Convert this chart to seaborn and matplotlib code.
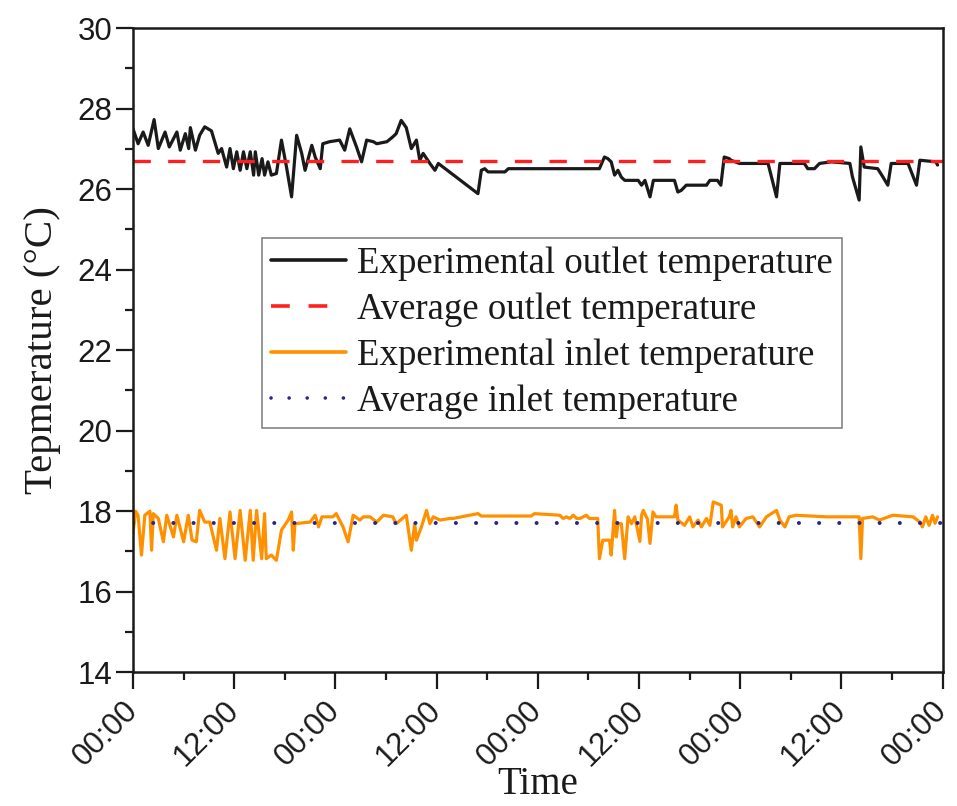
import matplotlib
matplotlib.use("Agg")
import matplotlib.pyplot as plt
import seaborn as sns
import pandas as pd

# Outlet water temperature over four days (hours since start, °C)
outlet_hours = [
    0.0, 0.6, 1.2, 1.8, 2.5, 3.0, 3.8, 4.3, 5.2, 5.6,
    6.2, 6.6, 6.8, 7.4, 7.9, 8.5, 9.3, 10.1, 10.5, 11.1,
    11.5, 11.9, 12.3, 12.7, 13.1, 13.5, 13.9, 14.3, 14.5, 14.9,
    15.3, 15.6, 16.0, 16.4, 17.0, 17.6, 18.2, 18.8, 19.4, 20.0,
    20.4, 21.2, 21.6, 22.2, 22.5, 23.3, 24.5, 25.1, 25.7, 26.5,
    27.1, 27.7, 28.5, 28.9, 30.1, 30.8, 31.2, 31.8, 32.4, 33.0,
    33.6, 34.0, 34.4, 35.2, 35.8, 36.2, 40.9, 41.3, 41.7, 42.1,
    44.1, 44.5, 55.3, 55.9, 56.3, 56.7, 57.1, 57.5, 57.9, 58.3,
    59.9, 60.3, 60.7, 61.3, 61.7, 64.2, 64.6, 65.0, 65.6, 68.0,
    68.4, 69.3, 69.7, 70.1, 70.7, 70.9, 71.9, 75.3, 76.3, 76.7,
    79.6, 80.0, 80.8, 81.4, 82.8, 85.0, 85.3, 86.1, 86.3, 86.7,
    88.3, 88.9, 89.5, 89.9, 91.9, 92.9, 93.3, 95.2, 95.4,
]
outlet_temp = [
    27.50, 27.13, 27.42, 27.09, 27.73, 27.01, 27.42, 27.05, 27.42, 26.97,
    27.38, 27.01, 27.53, 26.97, 27.34, 27.55, 27.45, 26.89, 27.01, 26.55,
    27.01, 26.51, 26.93, 26.47, 26.93, 26.51, 26.93, 26.35, 26.93, 26.35,
    26.76, 26.35, 26.68, 26.35, 26.39, 27.22, 26.55, 25.81, 27.34, 26.89,
    26.47, 27.09, 26.80, 26.51, 27.13, 27.18, 27.22, 26.97, 27.50, 27.05,
    26.68, 27.22, 27.18, 27.13, 27.18, 27.30, 27.38, 27.71, 27.53, 27.01,
    27.22, 26.72, 26.89, 26.64, 26.47, 26.64, 25.89, 26.47, 26.51, 26.43,
    26.43, 26.51, 26.51, 26.80, 26.76, 26.68, 26.35, 26.47, 26.30, 26.22,
    26.22, 26.10, 26.22, 25.81, 26.22, 26.22, 25.93, 25.97, 26.10, 26.10,
    26.22, 26.22, 26.10, 26.80, 26.76, 26.72, 26.64, 26.64, 25.81, 26.64,
    26.64, 26.51, 26.51, 26.64, 26.68, 26.64, 26.31, 25.73, 27.05, 26.55,
    26.51, 26.31, 26.10, 26.64, 26.64, 26.10, 26.72, 26.68, 26.60,
]

# Inlet water temperature over the same period (hours since start, °C)
inlet_hours = [
    0.0, 0.3, 0.6, 1.0, 1.4, 2.0, 2.2, 2.4, 3.0, 3.6,
    4.0, 4.8, 5.2, 6.0, 6.55, 7.0, 7.5, 7.9, 8.5, 9.1,
    9.9, 10.3, 10.9, 11.5, 12.1, 12.7, 13.3, 13.9, 14.25, 14.65,
    15.25, 15.6, 15.8, 16.4, 17.0, 17.6, 18.4, 18.8, 19.0, 19.2,
    21.0, 21.6, 22.0, 22.4, 23.7, 24.1, 24.9, 25.5, 26.1, 26.9,
    27.3, 28.1, 28.9, 29.7, 30.8, 31.2, 32.4, 33.0, 33.4, 33.6,
    34.2, 34.8, 35.2, 35.6, 36.4, 37.6, 37.95, 40.9, 41.3, 47.2,
    47.6, 50.6, 51.0, 51.4, 51.8, 52.2, 52.6, 53.0, 53.75, 54.1,
    55.1, 55.3, 55.7, 56.5, 56.7, 57.1, 57.3, 57.5, 57.9, 58.3,
    58.7, 59.1, 59.5, 60.1, 60.3, 60.5, 61.0, 61.3, 61.65, 62.0,
    64.2, 64.4, 64.6, 65.4, 66.0, 66.4, 67.0, 67.4, 68.0, 68.4,
    68.8, 69.75, 69.9, 70.7, 70.9, 71.1, 71.5, 71.9, 72.7, 73.5,
    74.3, 75.1, 76.3, 76.7, 77.3, 77.8, 78.6, 82.2, 86.1, 86.3,
    86.5, 87.7, 88.5, 90.1, 92.5, 93.3, 93.6, 94.0, 94.4, 94.8,
    95.1, 95.4,
]
inlet_temp = [
    17.45, 18.00, 17.90, 16.91, 17.90, 18.00, 17.03, 17.94, 17.82, 17.24,
    17.90, 17.36, 17.90, 17.24, 17.90, 17.28, 17.24, 18.02, 17.73, 17.73,
    17.03, 17.82, 16.82, 17.98, 16.82, 18.02, 16.78, 18.02, 16.78, 18.02,
    16.82, 17.94, 16.82, 16.91, 16.78, 17.53, 17.78, 17.98, 17.03, 17.69,
    17.73, 17.90, 17.61, 17.86, 17.86, 17.94, 17.61, 17.24, 17.90, 17.78,
    17.86, 17.86, 17.73, 17.90, 17.86, 17.69, 17.90, 17.03, 17.69, 17.28,
    17.61, 18.02, 17.69, 17.86, 17.78, 17.82, 17.82, 17.94, 17.88, 17.88,
    17.94, 17.90, 17.82, 17.86, 17.82, 17.90, 17.82, 17.82, 17.90, 17.82,
    17.82, 16.82, 17.28, 17.28, 16.91, 18.02, 17.36, 17.69, 17.69, 16.82,
    17.86, 17.69, 17.86, 17.25, 17.90, 18.02, 17.80, 17.20, 17.98, 17.86,
    17.86, 18.15, 17.78, 17.65, 17.86, 17.61, 17.78, 17.61, 17.82, 17.65,
    18.23, 18.15, 17.61, 17.86, 18.02, 17.61, 17.86, 17.61, 17.82, 17.86,
    17.61, 17.86, 18.02, 17.78, 17.61, 17.86, 17.90, 17.86, 17.86, 16.82,
    17.82, 17.86, 17.78, 17.90, 17.86, 17.73, 17.61, 17.86, 17.65, 17.90,
    17.70, 17.86,
]

avg_outlet = 26.7
avg_inlet = 17.7

tick_hours = [0, 12, 24, 36, 48, 60, 72, 84, 96]
tick_labels = ["00:00", "12:00", "00:00", "12:00", "00:00",
               "12:00", "00:00", "12:00", "00:00"]

sns.set_theme(style="ticks")
plt.rcParams["font.family"] = ["Liberation Sans", "DejaVu Sans"]
serif = ["Liberation Serif", "DejaVu Serif"]

fig = plt.figure(figsize=(9.57, 8.06), dpi=100)
ax = fig.add_axes([0.139, 0.166, 0.846, 0.799])

df_out = pd.DataFrame({"h": outlet_hours, "t": outlet_temp})
df_in = pd.DataFrame({"h": inlet_hours, "t": inlet_temp})

sns.lineplot(data=df_out, x="h", y="t", ax=ax, color="#1a1a1a", lw=2.3,
             label="Experimental outlet temperature", estimator=None, sort=False)
ax.axhline(avg_outlet, color="#ff1f1f", lw=2.4, ls=(0, (5.2, 5.2)),
           label="Average outlet temperature")
sns.lineplot(data=df_in, x="h", y="t", ax=ax, color="#ff9100", lw=2.3,
             label="Experimental inlet temperature", estimator=None, sort=False)
ax.axhline(avg_inlet, color="#26268c", lw=2.9, ls=(0, (0.01, 5.0)),
           dash_capstyle="round", label="Average inlet temperature")

ax.set_xlim(0, 96)
ax.set_ylim(14, 30)
ax.set_xticks(tick_hours)
ax.set_xticklabels(tick_labels, rotation=45, ha="right", va="center",
                   rotation_mode="anchor")
ax.set_xticks([6, 18, 30, 42, 54, 66, 78, 90], minor=True)
ax.set_yticks(range(14, 31, 2))
ax.set_yticks(range(15, 30, 2), minor=True)

ax.tick_params(axis="both", which="major", direction="out", length=12,
               width=1.6, color="#1a1a1a", labelsize=22.5, labelcolor="#1a1a1a")
ax.tick_params(axis="y", which="major", pad=3)
ax.tick_params(axis="x", which="major", pad=12)
ax.tick_params(axis="both", which="minor", direction="out", length=6,
               width=1.6, color="#1a1a1a")
for sp in ax.spines.values():
    sp.set_visible(True)
    sp.set_linewidth(1.8)
    sp.set_color("#1a1a1a")

ax.set_xlabel("Time", fontsize=28, family=serif, color="#1a1a1a", labelpad=-4)
ax.set_ylabel("Tepmerature (°C)", fontsize=29.5, family=serif, color="#1a1a1a",
              labelpad=12)

leg = ax.legend(loc="upper left", bbox_to_anchor=(0.159, 0.675),
                prop={"family": serif, "size": 26.5}, handlelength=2.05,
                handletextpad=0.3, borderpad=0.25, labelspacing=0.31,
                borderaxespad=0, frameon=True, fancybox=False)
leg.get_frame().set_edgecolor("#666666")
leg.get_frame().set_linewidth(1.2)
for line in leg.get_lines():
    line.set_linewidth(2.6)
for t in leg.get_texts():
    t.set_color("#1a1a1a")

fig.savefig("out.png", dpi=100)
